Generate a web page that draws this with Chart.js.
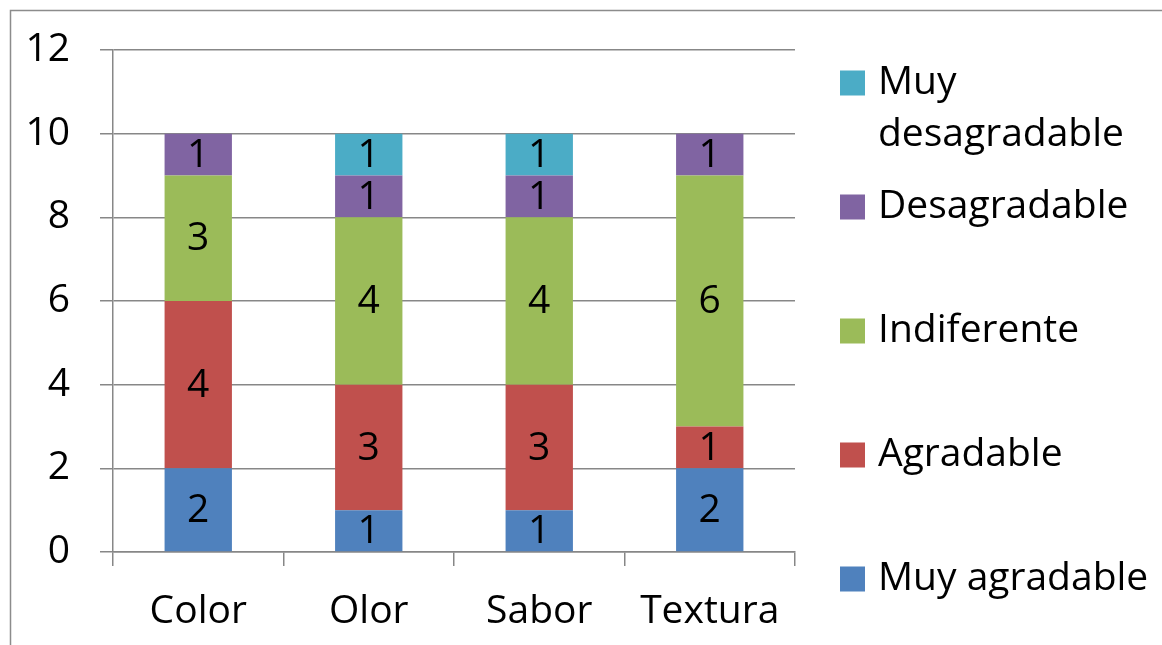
<!DOCTYPE html>
<html>
<head>
<meta charset="utf-8">
<script src="https://cdn.jsdelivr.net/npm/chart.js@4/dist/chart.umd.min.js"></script>
<style>
  html, body { margin: 0; padding: 0; background: #ffffff; }
  #wrap { width: 1162px; height: 645px; position: relative; }
</style>
</head>
<body>
<div id="wrap"><canvas id="c" width="1162" height="645"></canvas></div>
<script>
// Evaluation results per attribute
const categories = ['Color', 'Olor', 'Sabor', 'Textura'];
const muyAgradable    = [2, 1, 1, 2];
const agradable       = [4, 3, 3, 1];
const indiferente     = [3, 4, 4, 6];
const desagradable    = [1, 1, 1, 1];
const muyDesagradable = [0, 1, 1, 0];
const yTicks = [0, 2, 4, 6, 8, 10, 12];

const FONT = '"Open Sans", Lato, sans-serif';
const FONT_SIZE = 39;
const GRID = '#878787';

// Plot area edges in canvas pixels
const AREA = { left: 113, right: 795, top: 50, bottom: 552 };

// Value labels centred in each stacked segment
const segmentLabels = {
  id: 'segmentLabels',
  afterDatasetsDraw(chart) {
    const ctx = chart.ctx;
    ctx.save();
    ctx.fillStyle = '#000';
    ctx.font = FONT_SIZE + 'px ' + FONT;
    ctx.textAlign = 'center';
    ctx.textBaseline = 'middle';
    chart.data.datasets.forEach((ds, i) => {
      const meta = chart.getDatasetMeta(i);
      meta.data.forEach((bar, j) => {
        const v = ds.data[j];
        if (!v) return;
        const p = bar.getProps(['x', 'y', 'base'], true);
        ctx.fillText(String(v), p.x, (p.y + p.base) / 2 + 1);
      });
    });
    ctx.restore();
  }
};

// Outer frame and right-hand legend (top entry = last series)
const frameAndLegend = {
  id: 'frameAndLegend',
  beforeDraw(chart) {
    const ctx = chart.ctx;
    ctx.save();
    ctx.strokeStyle = '#8c8c8c';
    ctx.lineWidth = 1.5;
    ctx.strokeRect(10.5, 10.5, 1200, 700);
    ctx.restore();
  },
  afterDraw(chart) {
    const ctx = chart.ctx;
    const items = chart.data.datasets.slice().reverse();
    const boxX = 840, box = 25, textX = 878, firstY = 83, step = 124, lineH = 52;
    ctx.save();
    ctx.font = FONT_SIZE + 'px ' + FONT;
    ctx.textBaseline = 'middle';
    ctx.textAlign = 'left';
    items.forEach((ds, k) => {
      const cy = firstY + k * step;
      ctx.fillStyle = ds.backgroundColor;
      ctx.fillRect(boxX, cy - box / 2, box, box);
      ctx.fillStyle = '#000';
      const lines = Array.isArray(ds.legendLines) ? ds.legendLines : [ds.label];
      lines.forEach((t, li) => ctx.fillText(t, textX, cy + li * lineH));
    });
    ctx.restore();
  }
};

const chart = new Chart(document.getElementById('c'), {
  type: 'bar',
  data: {
    labels: categories,
    datasets: [
      { label: 'Muy agradable', data: muyAgradable, backgroundColor: '#4F81BD' },
      { label: 'Agradable', data: agradable, backgroundColor: '#C0504D' },
      { label: 'Indiferente', data: indiferente, backgroundColor: '#9BBB59' },
      { label: 'Desagradable', data: desagradable, backgroundColor: '#8064A2' },
      { label: 'Muy desagradable', legendLines: ['Muy', 'desagradable'], data: muyDesagradable, backgroundColor: '#4BACC6' }
    ]
  },
  options: {
    responsive: false,
    animation: false,
    events: [],
    layout: { padding: { top: AREA.top, right: 1162 - AREA.right, left: 0, bottom: 0 } },
    datasets: { bar: { categoryPercentage: 1, barPercentage: 0.395, borderWidth: 0 } },
    plugins: { legend: { display: false }, tooltip: { enabled: false }, title: { display: false } },
    scales: {
      x: {
        stacked: true,
        grid: { display: true, drawOnChartArea: false, drawTicks: true, tickLength: 14, color: GRID, lineWidth: 1.5, offset: true },
        border: { display: true, color: GRID, width: 1.5 },
        ticks: { color: '#000', font: { family: FONT, size: FONT_SIZE, lineHeight: 1.0 }, padding: 26, maxRotation: 0 },
        afterFit(scale) { scale.height = 645 - AREA.bottom; }
      },
      y: {
        stacked: true,
        min: 0, max: 12,
        afterBuildTicks(scale) { scale.ticks = yTicks.map(v => ({ value: v })); },
        grid: { color: GRID, lineWidth: 1.5, drawTicks: true, tickLength: 13 },
        border: { display: true, color: GRID, width: 1.5 },
        ticks: { color: '#000', font: { family: FONT, size: FONT_SIZE, lineHeight: 1.0 }, padding: 30 },
        afterFit(scale) { scale.width = AREA.left; }
      }
    }
  },
  plugins: [segmentLabels, frameAndLegend]
});
</script>
</body>
</html>
